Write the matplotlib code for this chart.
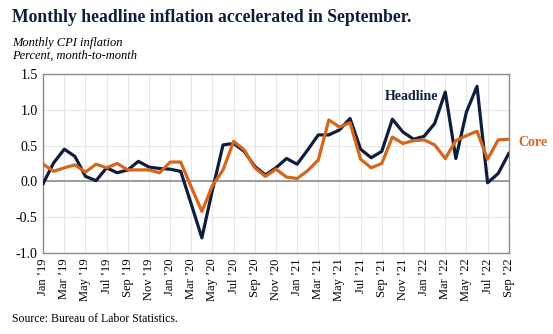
import numpy as np
import matplotlib.pyplot as plt

# monthly CPI change, percent (Jan 2019 - Sep 2022)
headline = [-0.03, 0.26, 0.45, 0.35, 0.07, 0.01, 0.19, 0.12, 0.16, 0.28, 0.20, 0.18,
            0.17, 0.14, -0.32, -0.79, -0.12, 0.51, 0.53, 0.42, 0.21, 0.09, 0.19, 0.32,
            0.24, 0.44, 0.65, 0.65, 0.72, 0.88, 0.45, 0.33, 0.42, 0.87, 0.69, 0.59,
            0.63, 0.81, 1.25, 0.32, 0.97, 1.33, -0.02, 0.11, 0.39]
core = [0.24, 0.14, 0.19, 0.23, 0.13, 0.24, 0.19, 0.25, 0.16, 0.16, 0.16, 0.12,
        0.27, 0.27, -0.08, -0.42, -0.06, 0.16, 0.56, 0.44, 0.19, 0.07, 0.17, 0.06,
        0.04, 0.15, 0.30, 0.86, 0.76, 0.82, 0.31, 0.19, 0.25, 0.62, 0.53, 0.57,
        0.58, 0.51, 0.32, 0.57, 0.64, 0.70, 0.31, 0.58, 0.59]

mesi = ["Jan", "Feb", "Mar", "Apr", "May", "Jun", "Jul", "Aug", "Sep", "Oct", "Nov", "Dec"]
etichette = [f"{mesi[i % 12]} \u2019{19 + i // 12}" for i in range(len(headline))]

navy = "#0f1d3c"
orange = "#d5661c"

plt.rcParams["font.family"] = ["Liberation Serif", "DejaVu Serif"]

fig = plt.figure(figsize=(5.53, 3.34), dpi=100)
ax = fig.add_axes([0.078, 0.243, 0.842, 0.535])

x = np.arange(len(headline))
ax.plot(x, headline, color=navy, lw=2.3, zorder=3)
ax.plot(x, core, color=orange, lw=2.3, zorder=4)

ax.set_xlim(0, len(headline) - 1)
ax.set_ylim(-1.0, 1.5)
ax.set_yticks(np.arange(-1.0, 1.51, 0.5))
ax.set_yticklabels([f"{v:.1f}" for v in np.arange(-1.0, 1.51, 0.5)], fontsize=10)
ax.set_xticks(x[::2])
ax.set_xticklabels(etichette[::2], rotation=90, fontsize=9)
ax.tick_params(length=0, pad=4)

ax.grid(True, color="#e6e6e6", lw=0.8, zorder=0)
ax.axhline(0, color="#8c8c8c", lw=1.2, zorder=2)
for s in ax.spines.values():
    s.set_color("#8c8c8c")
    s.set_linewidth(1.0)

ax.text(34.8, 1.19, "Headline", color=navy, fontsize=10, fontweight="bold",
        ha="center", va="center")
ax.text(44.9, 0.55, "Core", color=orange, fontsize=10, fontweight="bold",
        ha="left", va="center", clip_on=False)

fig.text(0.022, 0.948, "Monthly headline inflation accelerated in September.",
         color=navy, fontsize=12.7, fontweight="bold", va="center")
fig.text(0.022, 0.872, "Monthly CPI inflation", fontsize=9, style="italic", va="center")
fig.text(0.022, 0.833, "Percent, month-to-month", fontsize=9, style="italic", va="center")
fig.text(0.022, 0.045, "Source: Bureau of Labor Statistics.", fontsize=8.5, va="center")

fig.savefig("out.png", dpi=100)
